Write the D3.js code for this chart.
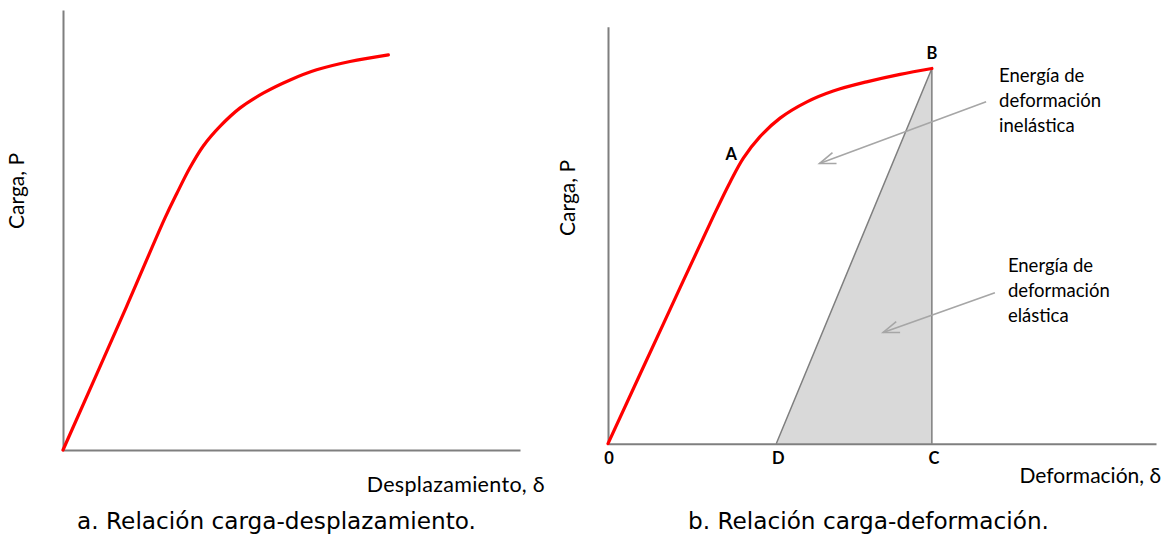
<!DOCTYPE html>
<html><head><meta charset="utf-8">
<script src="https://cdn.jsdelivr.net/npm/d3@7"></script>
<style>body{margin:0;background:#fff}svg{display:block}</style>
</head><body><svg id="c" width="1165" height="538"></svg>
<script>
// ---- data (percent of axis extent) ----
const curveA_x = [0, 13.9, 22.3, 24.9, 27.8, 30.7, 34.4, 38.7, 43.8, 49.7, 55.5, 62.8, 71.2];
const curveA_y = [0, 32.6, 52.7, 58.3, 64.2, 69.1, 73.6, 77.7, 81.1, 84.1, 86.4, 88.3, 89.8];
const curveB_x = [0, 10.4, 19.5, 22.3, 24.7, 27.7, 31.4, 36.3, 41.1, 47.2, 53.3, 59.1];
const curveB_y = [0, 29.6, 55.3, 62.8, 68.5, 73.6, 78.1, 82.0, 84.6, 86.8, 88.6, 90.0];
const pointNames = ["0", "D", "C", "B", "A"];
const pointX = [0, 30.7, 59.1, 59.1, 24.7];
const pointY = [0, 0, 0, 90.0, 68.5];
const triangleNames = ["D", "B", "C"];
const arrowLabels = [["Energía de", "deformación", "inelástica"], ["Energía de", "deformación", "elástica"]];
const arrowFromX = [69.0, 70.6];
const arrowFromY = [82.0, 36.2];
const arrowToX = [38.6, 50.2];
const arrowToY = [67.2, 26.7];
const axisTitlesX = ["Desplazamiento, δ", "Deformación, δ"];
const axisTitlesY = ["Carga, P", "Carga, P"];
const captions = ["a. Relación carga-desplazamiento.", "b. Relación carga-deformación."];

const svg = d3.select("#c");
const RED = "#ff0000", AXIS = "#7f7f7f", ARROW = "#a6a6a6", FILL = "#d9d9d9";
const LF = "Lato, 'Open Sans', sans-serif";

// scales
const xA = d3.scaleLinear().domain([0, 100]).range([63, 520]);
const yA = d3.scaleLinear().domain([0, 100]).range([450, 10]);
const xB = d3.scaleLinear().domain([0, 100]).range([608, 1156]);
const yB = d3.scaleLinear().domain([0, 100]).range([443.7, 26.8]);

function drawAxes(x, y) {
  const gx = svg.append("g").attr("transform", `translate(0,${y(0)})`)
    .call(d3.axisBottom(x).tickValues([]).tickSizeOuter(0));
  const gy = svg.append("g").attr("transform", `translate(${x(0)},0)`)
    .call(d3.axisLeft(y).tickValues([]).tickSizeOuter(0));
  [gx, gy].forEach(g => g.select(".domain").attr("stroke", AXIS).attr("stroke-width", 2));
}

// ---- panel a ----
drawAxes(xA, yA);
const lineA = d3.line().x(d => xA(d[0])).y(d => yA(d[1])).curve(d3.curveCatmullRom.alpha(0.5));
svg.append("path").datum(d3.zip(curveA_x, curveA_y)).attr("d", lineA)
  .attr("fill", "none").attr("stroke", RED).attr("stroke-width", 3.2).attr("stroke-linecap", "round");

// ---- panel b ----
const pts = {};
pointNames.forEach((n, i) => pts[n] = [pointX[i], pointY[i]]);
svg.append("path").datum(triangleNames.map(n => pts[n]))
  .attr("d", d3.line().x(d => xB(d[0])).y(d => yB(d[1])))
  .attr("fill", FILL).attr("stroke", AXIS).attr("stroke-width", 1.5);
drawAxes(xB, yB);
const lineB = d3.line().x(d => xB(d[0])).y(d => yB(d[1])).curve(d3.curveCatmullRom.alpha(0.5));
svg.append("path").datum(d3.zip(curveB_x, curveB_y)).attr("d", lineB)
  .attr("fill", "none").attr("stroke", RED).attr("stroke-width", 3.2).attr("stroke-linecap", "round");

// point labels
const labelOff = {"0": [1, 20], "D": [2, 20], "C": [2, 20], "B": [0, -9], "A": [-12, 2]};
svg.selectAll("text.pt").data(pointNames).join("text").attr("class", "pt")
  .attr("x", n => xB(pts[n][0]) + labelOff[n][0])
  .attr("y", n => yB(pts[n][1]) + labelOff[n][1])
  .attr("text-anchor", "middle").attr("font-family", LF).attr("font-weight", "bold")
  .attr("font-size", 16.5).attr("fill", "#000").text(n => n);

// arrows
arrowLabels.forEach((lines, i) => {
  const x1 = xB(arrowFromX[i]), y1 = yB(arrowFromY[i]);
  const x2 = xB(arrowToX[i]), y2 = yB(arrowToY[i]);
  svg.append("line").attr("x1", x1).attr("y1", y1).attr("x2", x2).attr("y2", y2)
    .attr("stroke", ARROW).attr("stroke-width", 1.6);
  const ang = Math.atan2(y1 - y2, x1 - x2), L = 17, w = 20 * Math.PI / 180;
  const a1 = [x2 + L * Math.cos(ang - w), y2 + L * Math.sin(ang - w)];
  const a2 = [x2 + L * Math.cos(ang + w), y2 + L * Math.sin(ang + w)];
  svg.append("path").attr("d", d3.line()([a1, [x2, y2], a2]))
    .attr("fill", "none").attr("stroke", ARROW).attr("stroke-width", 1.6);
  const t = svg.append("text").attr("font-family", LF).attr("font-size", 18.5).attr("fill", "#000")
    .attr("x", x1 + 13).attr("y", y1 - (i === 0 ? 20 : 21));
  lines.forEach((s, k) => t.append("tspan").attr("x", x1 + 13).attr("dy", k === 0 ? 0 : 25.3).text(s));
});

// axis titles
svg.append("text").attr("x", 545).attr("y", 492).attr("text-anchor", "end")
  .attr("font-family", LF).attr("font-size", 21.5).attr("letter-spacing", 0.3).text(axisTitlesX[0]);
svg.append("text").attr("x", 1161).attr("y", 483).attr("text-anchor", "end")
  .attr("font-family", LF).attr("font-size", 21).text(axisTitlesX[1]);
[[24, 191], [575, 198]].forEach((p, i) => {
  svg.append("text").attr("transform", `translate(${p[0]},${p[1]}) rotate(-90)`)
    .attr("text-anchor", "middle").attr("font-family", LF).attr("font-size", 21).text(axisTitlesY[i]);
});

// captions
[[276.5, 529], [868.5, 529]].forEach((p, i) => {
  svg.append("text").attr("x", p[0]).attr("y", p[1]).attr("text-anchor", "middle")
    .attr("font-family", "'DejaVu Sans', sans-serif").attr("font-size", 23.2).text(captions[i]);
});
</script></body></html>
